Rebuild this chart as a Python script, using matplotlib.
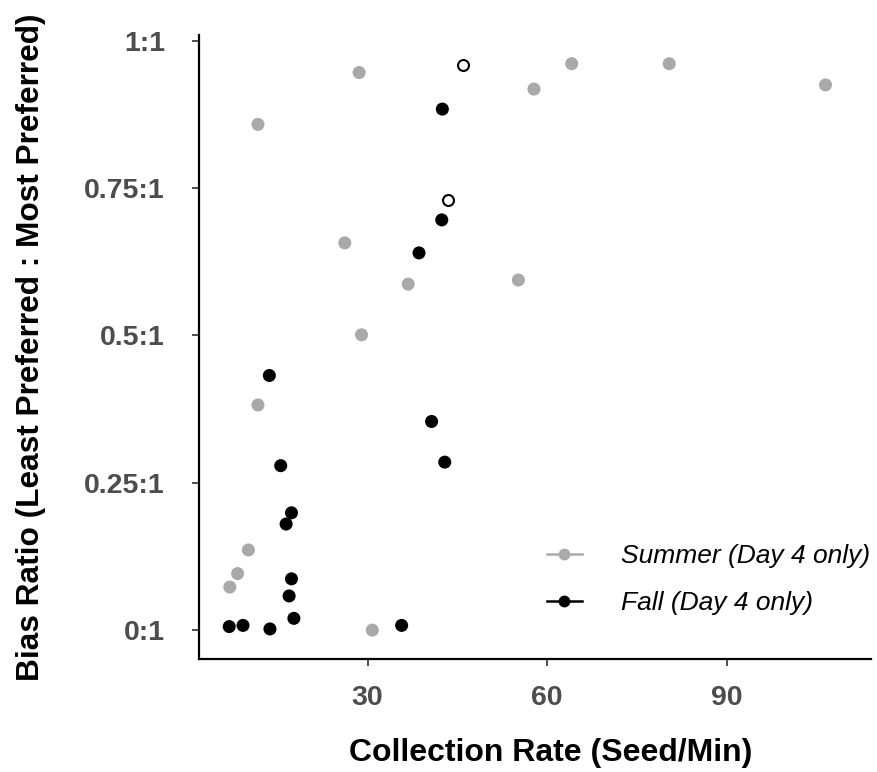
import matplotlib
matplotlib.use("Agg")
import matplotlib.pyplot as plt
from matplotlib.lines import Line2D

# Day 4 foraging: collection rate vs. bias ratio
summer_rate = [11.7, 28.6, 64.1, 80.4, 106.5, 57.8, 26.2, 36.8, 55.2, 29.0,
               11.7, 10.1, 8.3, 7.0, 30.8]
summer_bias = [0.858, 0.946, 0.961, 0.961, 0.925, 0.918, 0.657, 0.587, 0.594, 0.501,
               0.382, 0.136, 0.096, 0.073, 0.0]

fall_rate = [42.5, 42.4, 38.6, 13.6, 40.7, 42.9, 15.5, 17.3, 16.4, 17.3,
             16.9, 17.7, 6.9, 9.2, 13.7, 35.7]
fall_bias = [0.884, 0.696, 0.640, 0.432, 0.354, 0.285, 0.279, 0.199, 0.180, 0.087,
             0.058, 0.020, 0.006, 0.008, 0.002, 0.008]

# fall trials flagged separately (open symbols)
flagged_rate = [46.0, 43.4]
flagged_bias = [0.958, 0.729]

y_ticks = [0, 0.25, 0.5, 0.75, 1]
y_labels = ["0:1", "0.25:1", "0.5:1", "0.75:1", "1:1"]
x_ticks = [30, 60, 90]

gray = "#A9A9A9"
tick_gray = "#4D4D4D"

plt.rcParams["font.family"] = ["Liberation Sans", "DejaVu Sans"]

W, H = 877, 772
fig = plt.figure(figsize=(W / 100, H / 100), dpi=100, facecolor="white")
ax = fig.add_axes([199 / W, (H - 659) / H, (871 - 199) / W, (659 - 35) / H])

ax.scatter(summer_rate, summer_bias, s=88, color=gray, edgecolor="none", zorder=2)
ax.scatter(fall_rate, fall_bias, s=88, color="black", edgecolor="none", zorder=3)
ax.scatter(flagged_rate, flagged_bias, s=62, facecolor="white", edgecolor="black",
           linewidth=1.5, zorder=3)

ax.set_xlim(1.85, 114.1)
ax.set_ylim(-0.049, 1.0097)
ax.set_xticks(x_ticks)
ax.set_yticks(y_ticks)
ax.set_yticklabels(y_labels)

ax.spines[["top", "right"]].set_visible(False)
for side in ("left", "bottom"):
    ax.spines[side].set_linewidth(1.6)
    ax.spines[side].set_color("black")
ax.tick_params(colors=tick_gray, length=5, width=1.4, labelsize=20.5)
for lbl in ax.get_xticklabels() + ax.get_yticklabels():
    lbl.set_fontweight("bold")
ax.tick_params(axis="x", pad=14)
ax.tick_params(axis="y", pad=19.5)

ax.set_xlabel("Collection Rate (Seed/Min)", fontsize=23, fontweight="bold")
ax.set_ylabel("Bias Ratio (Least Preferred : Most Preferred)", fontsize=22.8,
              fontweight="bold")
ax.xaxis.set_label_coords(0.524, -0.126)
ax.yaxis.set_label_coords(-0.227, 0.5)

handles = [
    Line2D([0], [0], color=gray, marker="o", markersize=8.5, lw=1.8,
           markeredgecolor="none"),
    Line2D([0], [0], color="black", marker="o", markersize=8.5, lw=1.8,
           markeredgecolor="none"),
]
fig.legend(handles, ["Summer (Day 4 only)", "Fall (Day 4 only)"],
           loc="upper left", bbox_to_anchor=(547 / W, 1 - 544 / H),
           frameon=False, borderpad=0, borderaxespad=0,
           prop=dict(style="italic", size=19), handlelength=1.32,
           handletextpad=1.5, labelspacing=0.89)

fig.savefig("out.png", dpi=100, facecolor="white")
